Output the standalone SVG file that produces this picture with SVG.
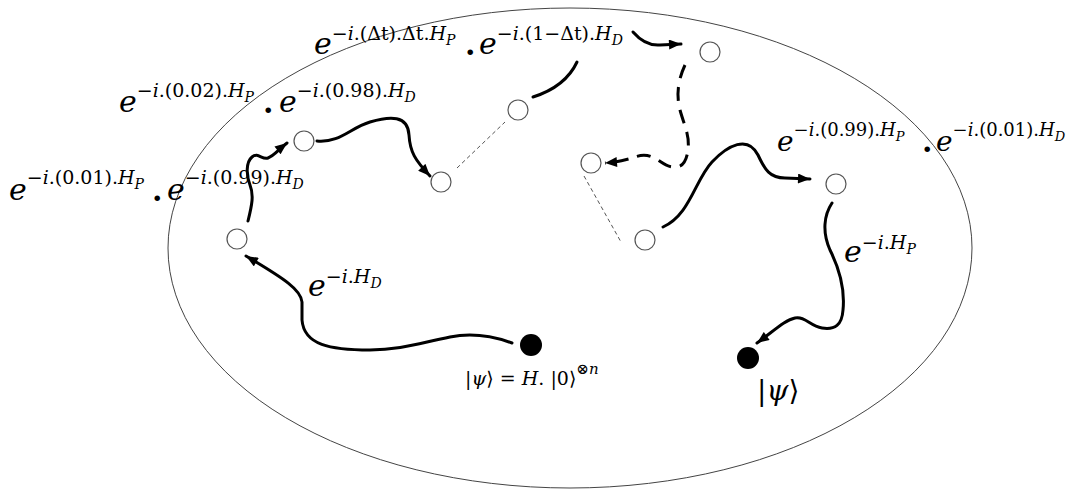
<svg xmlns="http://www.w3.org/2000/svg" width="1084" height="490" viewBox="0 0 1084 490">
<style>
.bg{fill:#fff}
.boundary{fill:none;stroke:#444;stroke-width:1}
.node{fill:#fff;stroke:#555;stroke-width:1.2}
.state{fill:#000}
.flow{fill:none;stroke:#000;stroke-width:3;stroke-linecap:round}
.dflow{fill:none;stroke:#000;stroke-width:3;stroke-dasharray:14 9}
.skip{fill:none;stroke:#555;stroke-width:1;stroke-dasharray:4 3}
text{font-family:"DejaVu Serif","Liberation Serif",serif;fill:#000}
.it{font-style:italic}
.E{font-style:italic;font-size:30px}
.E2{font-style:italic;font-size:28px}
.sp{font-size:19px}
.spi{font-size:19px;font-style:italic}
.sp2{font-size:18px}
.spi2{font-size:18px;font-style:italic}
.sb{font-style:italic;font-size:14px}
.sb2{font-style:italic;font-size:13px}
.dot{font-weight:bold;font-size:30px}
</style>
<defs>
<marker id="arr" viewBox="0 0 12 10" refX="12" refY="5" markerWidth="13" markerHeight="10" markerUnits="userSpaceOnUse" orient="auto">
<path d="M0,0 L12,5 L0,10 z" fill="#000"/>
</marker>
</defs>
<rect class="bg" x="0" y="0" width="1084" height="490"/>
<ellipse class="boundary" cx="570" cy="248" rx="402" ry="240"/>

<g id="connectors">
<path class="flow" marker-end="url(#arr)" d="M512,343 C490,335 470,333 450,337 C420,343 400,350 370,350 C330,350 304,345 302,320 L302,302 C301,290 285,279 246,256"/>
<path class="flow" marker-end="url(#arr)" d="M248,221 C252,205 254,195 250,185 C246,175 246,162 252,157 C258,152 262,160 268,158 C274,156 278,150 287,143"/>
<path class="flow" marker-end="url(#arr)" d="M317,141 C340,143 350,128 370,122 C390,116 408,115 409,135 C410,152 415,160 430,176"/>
<path class="skip" d="M457,168 L505,122"/>
<path class="flow" d="M533,97 C555,90 570,77 577,62"/>
<path class="flow" marker-end="url(#arr)" d="M633,32 C640,40 648,46 660,45 L681,44"/>
<path class="dflow" marker-end="url(#arr)" d="M685,65 C678,80 676,95 680,110 C684,125 690,135 688,150 C686,165 680,168 672,167 C664,166 660,160 652,157 C645,154 640,155 632,158 C625,160 618,162 605,163"/>
<path class="skip" d="M584,176 L621,242"/>
<path class="flow" marker-end="url(#arr)" d="M663,227 C690,215 695,180 712,162 C728,145 748,135 758,155 C765,170 770,178 785,178 L810,179"/>
<path class="flow" marker-end="url(#arr)" d="M832,203 C824,215 822,232 830,250 C840,270 845,290 843,310 C842,325 835,330 822,328 C810,326 805,316 795,318 C785,320 775,330 757,343"/>
</g>

<g id="start"><circle class="state" cx="531" cy="345" r="11"/></g>
<g id="end"><circle class="state" cx="748" cy="358" r="11"/></g>
<g id="n1"><circle class="node" cx="237" cy="239" r="10"/></g>
<g id="n2"><circle class="node" cx="304" cy="141" r="10"/></g>
<g id="n3"><circle class="node" cx="441" cy="182" r="10"/></g>
<g id="n4"><circle class="node" cx="518" cy="110" r="10"/></g>
<g id="n5"><circle class="node" cx="710" cy="52" r="10"/></g>
<g id="n6"><circle class="node" cx="591" cy="163" r="10"/></g>
<g id="n7"><circle class="node" cx="645" cy="240" r="10"/></g>
<g id="n8"><circle class="node" cx="836" cy="184" r="10"/></g>

<g id="labels">
<text><tspan class="E" x="314" y="54" font-size="31">e</tspan><tspan class="sp" y="40">−</tspan><tspan class="spi">i</tspan><tspan class="sp">.(Δt).Δt.</tspan><tspan class="spi">H</tspan><tspan class="sb" y="45">P</tspan><tspan class="dot" x="465" y="55">.</tspan><tspan class="E" x="479" y="54" font-size="31">e</tspan><tspan class="sp" y="40">−</tspan><tspan class="spi">i</tspan><tspan class="sp">.(1−Δt).</tspan><tspan class="spi">H</tspan><tspan class="sb" y="45">D</tspan></text>

<text><tspan class="E" x="119" y="112">e</tspan><tspan class="sp" y="97">−</tspan><tspan class="spi">i</tspan><tspan class="sp">.(0.02).</tspan><tspan class="spi">H</tspan><tspan class="sb" y="102">P</tspan><tspan class="dot" x="263" y="113">.</tspan><tspan class="E" x="279" y="112">e</tspan><tspan class="sp" y="97">−</tspan><tspan class="spi">i</tspan><tspan class="sp">.(0.98).</tspan><tspan class="spi">H</tspan><tspan class="sb" y="102">D</tspan></text>

<text><tspan class="E" x="9" y="200">e</tspan><tspan class="sp" y="184">−</tspan><tspan class="spi">i</tspan><tspan class="sp">.(0.01).</tspan><tspan class="spi">H</tspan><tspan class="sb" y="189">P</tspan><tspan class="dot" x="152" y="201">.</tspan><tspan class="E" x="167" y="200">e</tspan><tspan class="sp" y="184">−</tspan><tspan class="spi">i</tspan><tspan class="sp">.(0.99).</tspan><tspan class="spi">H</tspan><tspan class="sb" y="189">D</tspan></text>

<text><tspan class="E2" x="777" y="151">e</tspan><tspan class="sp2" y="136">−</tspan><tspan class="spi2">i</tspan><tspan class="sp2">.(0.99).</tspan><tspan class="spi2">H</tspan><tspan class="sb2" y="141">P</tspan><tspan class="dot" x="922" y="152" font-size="28">.</tspan><tspan class="E2" x="936" y="151">e</tspan><tspan class="sp2" y="136">−</tspan><tspan class="spi2">i</tspan><tspan class="sp2">.(0.01).</tspan><tspan class="spi2">H</tspan><tspan class="sb2" y="141">D</tspan></text>

<text><tspan class="E" x="308" y="296" font-size="26">e</tspan><tspan class="sp" y="283" font-size="17">−</tspan><tspan class="spi" font-size="17">i</tspan><tspan class="sp" font-size="17">.</tspan><tspan class="spi" font-size="17">H</tspan><tspan class="sb" y="288" font-size="12">D</tspan></text>

<text><tspan class="E" x="844" y="262" font-size="26">e</tspan><tspan class="sp" y="249" font-size="17">−</tspan><tspan class="spi" font-size="17">i</tspan><tspan class="sp" font-size="17">.</tspan><tspan class="spi" font-size="17">H</tspan><tspan class="sb" y="254" font-size="12">P</tspan></text>

<text font-size="19"><tspan x="465" y="385">|</tspan><tspan class="it">ψ</tspan><tspan>⟩ = </tspan><tspan class="it">H</tspan><tspan>. |0⟩</tspan><tspan y="374" font-size="15">⊗</tspan><tspan class="it" font-size="15">n</tspan></text>

<text font-size="28"><tspan x="757" y="400">|</tspan><tspan class="it">ψ</tspan><tspan>⟩</tspan></text>
</g>
</svg>
